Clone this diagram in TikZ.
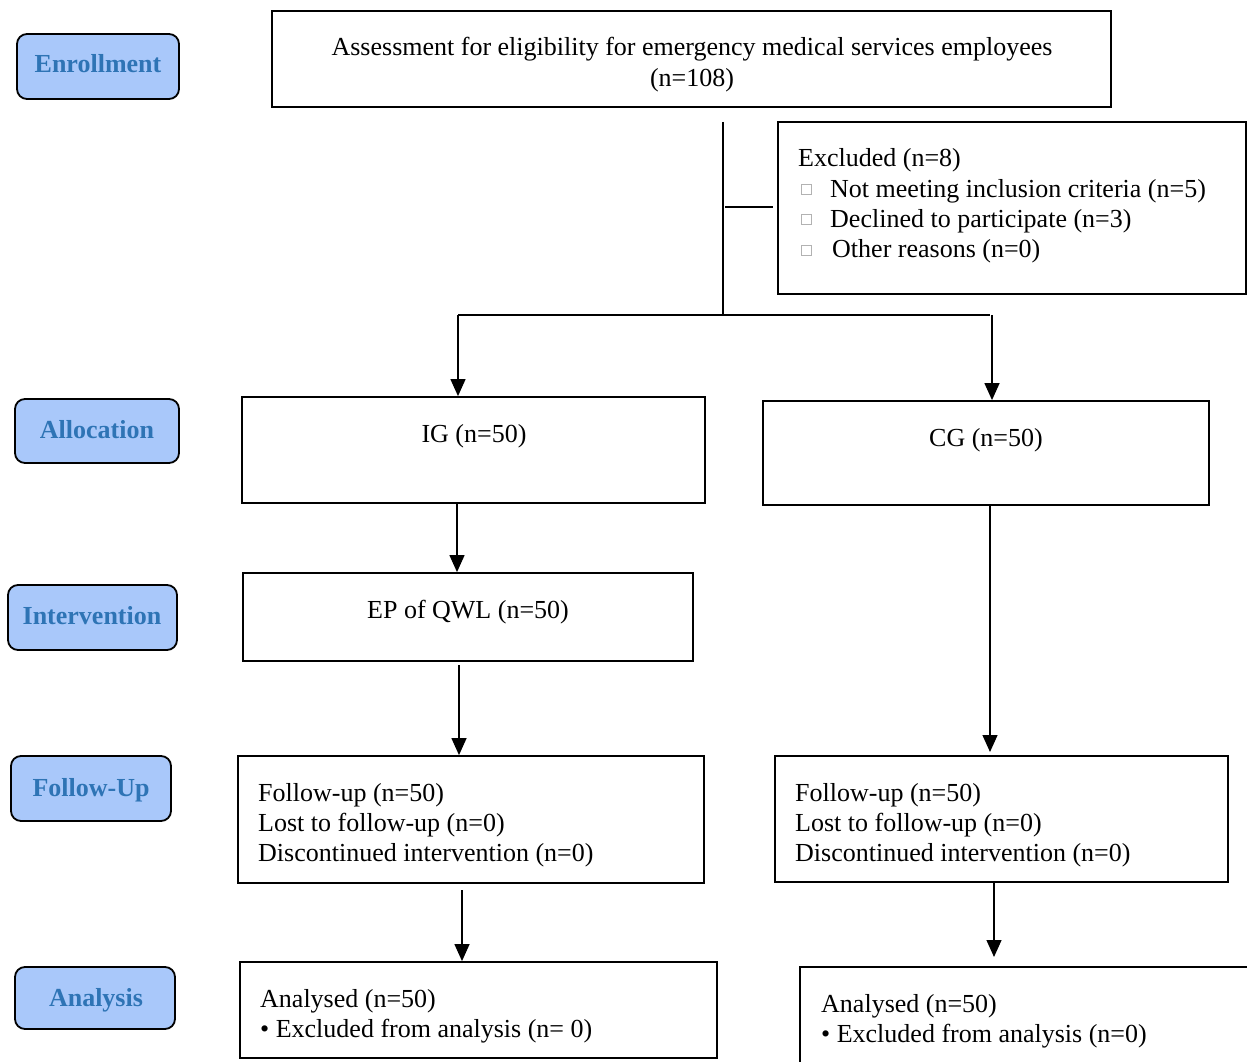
\documentclass[tikz,border=0pt]{standalone}
\usepackage{fontspec}
\setmainfont{Liberation Serif}
\usetikzlibrary{fit,arrows.meta}
\definecolor{labfill}{HTML}{A9C8FA}
\definecolor{labtext}{HTML}{2E74B5}
\begin{document}
\begin{tikzpicture}[x=1pt,y=-1pt,
  box/.style={draw, line width=1.8pt, inner sep=0pt},
  lab/.style={draw, line width=1.8pt, rounded corners=10pt, fill=labfill, inner sep=0pt},
  labt/.style={inner sep=0pt, anchor=base, text=labtext, font=\fontsize{26}{30}\selectfont\bfseries},
  txt/.style={inner sep=0pt, font=\fontsize{26}{30}\selectfont},
  sq/.style={draw=black!30, line width=0.8pt, minimum size=10pt, inner sep=0pt},
  ln/.style={line width=1.3pt},
  arr/.style={line width=1.3pt, -{Triangle[width=15pt,length=17pt]}}]
\useasboundingbox (0,0) rectangle (1247,1062);
\clip (0,0) rectangle (1247,1062);
% stage labels
\node[lab, fit={(17,34) (179,99)}] (lenr) {};
\node[labt] (lenrt) at (98,73) {Enrollment};
\node[lab, fit={(15,399) (179,463)}] (lall) {};
\node[labt] (lallt) at (97,438) {Allocation};
\node[lab, fit={(8,585) (177,650)}] (lint) {};
\node[labt] (lintt) at (92,624) {Intervention};
\node[lab, fit={(11,756) (171,821)}] (lfu) {};
\node[labt] (lfut) at (91,796) {Follow-Up};
\node[lab, fit={(15,967) (175,1029)}] (lana) {};
\node[labt] (lanat) at (96,1006) {Analysis};
% boxes
\node[box, fit={(272,11) (1111,107)}] (top) {};
\node[txt, anchor=base] (topt) at (692,56) {Assessment for eligibility for emergency medical services employees};
\node[txt, anchor=base] (topn) at (692,87) {(n=108)};
\node[box, fit={(778,122) (1246,294)}] (excl) {};
\node[txt, anchor=base west] (ex0) at (798,166) {Excluded (n=8)};
\node[sq] (s1) at (806,189) {};
\node[txt, anchor=base west] (ex1) at (830,197) {Not meeting inclusion criteria (n=5)};
\node[sq] (s2) at (806,219) {};
\node[txt, anchor=base west] (ex2) at (830,227) {Declined to participate (n=3)};
\node[sq] (s3) at (806,250) {};
\node[txt, anchor=base west] (ex3) at (832,257) {Other reasons (n=0)};
\node[box, fit={(242,397) (705,503)}] (ig) {};
\node[txt, anchor=base] (igt) at (474,442) {IG (n=50)};
\node[box, fit={(763,401) (1209,505)}] (cg) {};
\node[txt, anchor=base] (cgt) at (986,446) {CG (n=50)};
\node[box, fit={(243,573) (693,661)}] (ep) {};
\node[txt, anchor=base] (ept) at (468,618) {EP of QWL (n=50)};
\node[box, fit={(238,756) (704,883)}] (fuL) {};
\node[txt, anchor=base west, align=left] (fuLt) at (258,861) {Follow-up (n=50)\\Lost to follow-up (n=0)\\Discontinued intervention (n=0)};
\node[box, fit={(775,756) (1228,882)}] (fuR) {};
\node[txt, anchor=base west, align=left] (fuRt) at (795,861) {Follow-up (n=50)\\Lost to follow-up (n=0)\\Discontinued intervention (n=0)};
\node[box, fit={(240,962) (717,1058)}] (anL) {};
\node[txt, anchor=base west, align=left] (anLt) at (260,1037) {Analysed (n=50)\\\textbullet\ Excluded from analysis (n=\ 0)};
\node[box, fit={(800,967) (1262,1080)}] (anR) {};
\node[txt, anchor=base west, align=left] (anRt) at (821,1042) {Analysed (n=50)\\\textbullet\ Excluded from analysis (n=0)};
% connectors
\coordinate (v1) at (723,122);
\coordinate (v2) at (723,315);
\coordinate (h1) at (725,207);
\coordinate (h2) at (773,207);
\coordinate (bl) at (458,315);
\coordinate (br) at (992,315);
\draw[ln] (v1) -- (v2);
\draw[ln] (h1) -- (h2);
\draw[ln] (bl) -- (990,315);
\draw[arr] (bl) -- (ig.north -| bl);
\draw[arr] (br) -- (cg.north -| br);
\coordinate (a1) at (457,0);
\draw[arr] (ig.south -| a1) -- (ep.north -| a1);
\coordinate (a2) at (459,665);
\draw[arr] (a2) -- (fuL.north -| a2);
\coordinate (a3) at (990,0);
\draw[arr] (cg.south -| a3) -- (990,752);
\coordinate (a4) at (462,890);
\draw[arr] (a4) -- (anL.north -| a4);
\coordinate (a5) at (994,0);
\draw[arr] (fuR.south -| a5) -- (994,957);
\end{tikzpicture}
\end{document}
